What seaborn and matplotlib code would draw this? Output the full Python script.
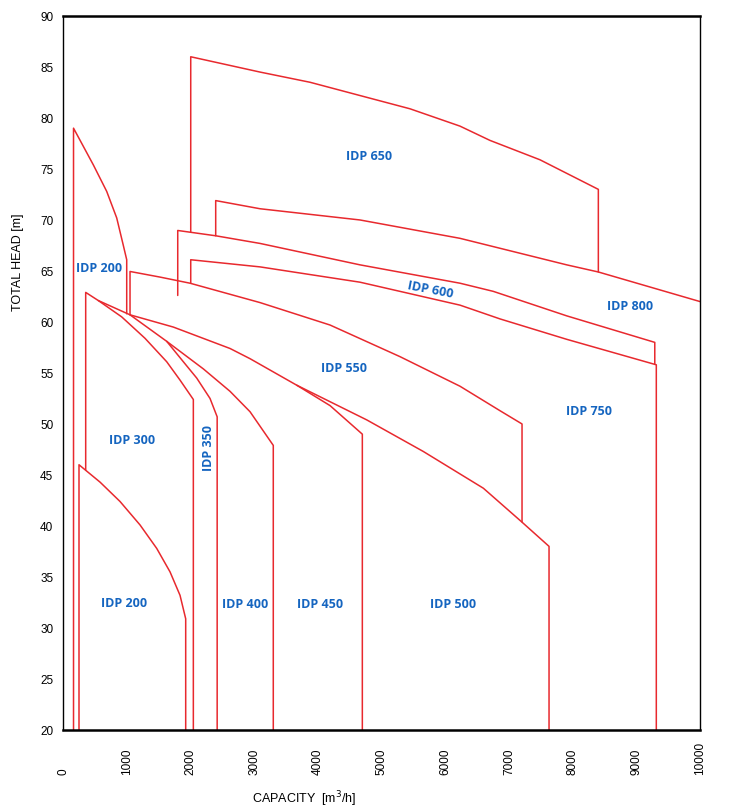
import matplotlib
matplotlib.use("Agg")
import matplotlib.pyplot as plt
import seaborn as sns
import pandas as pd

# pump range outlines: capacity [m3/h] / total head [m]
idp200_up_q = [165, 165, 476, 686, 843, 947, 1000, 1000]
idp200_up_h = [20, 79.0, 75.4, 72.8, 70.2, 67.5, 66.1, 60.8]

idp200_low_q = [251, 251, 581, 895, 1209, 1471, 1680, 1837, 1926, 1926]
idp200_low_h = [20, 46.0, 44.3, 42.4, 40.1, 37.8, 35.5, 33.2, 30.9, 20]

idp300_q = [356, 356, 554, 921, 1287, 1628, 1837, 2046, 2046]
idp300_h = [45.5, 62.9, 62.1, 60.5, 58.4, 56.1, 54.3, 52.4, 20]

idp350_q = [554, 1052, 1628, 1889, 2099, 2308, 2420, 2420]
idp350_h = [62.1, 60.7, 58.1, 56.1, 54.5, 52.5, 50.7, 20]

idp400_q = [1628, 2203, 2622, 2936, 3301, 3301]
idp400_h = [58.1, 55.4, 53.2, 51.2, 47.9, 20]

idp450_q = [1052, 1732, 2622, 2936, 3669, 4192, 4699, 4699]
idp450_h = [60.7, 59.5, 57.4, 56.4, 53.8, 51.8, 49.0, 20]

idp500_q = [3669, 4768, 5657, 6599, 7201, 7630, 7630]
idp500_h = [53.8, 50.4, 47.3, 43.7, 40.4, 38.0, 20]

idp550_q = [1052, 1052, 1523, 1994, 3093, 4192, 5290, 6232, 6860, 7206, 7206]
idp550_h = [60.7, 64.95, 64.4, 63.8, 61.9, 59.7, 56.6, 53.7, 51.3, 50.0, 40.4]

idp750_q = [2005, 2005, 3093, 3615, 4662, 6232, 6860, 7907, 9314, 9314]
idp750_h = [63.8, 66.1, 65.4, 64.9, 63.9, 61.65, 60.3, 58.3, 55.8, 20]

idp600_q = [1801, 1801, 2397, 3093, 4662, 6232, 6755, 7907, 9290, 9290]
idp600_h = [62.6, 68.97, 68.45, 67.7, 65.6, 63.8, 63.0, 60.6, 58.0, 55.9]

idp650_q = [2005, 2005, 3093, 3878, 4662, 5447, 6232, 6703, 7488, 8404, 8404]
idp650_h = [68.8, 86.0, 84.5, 83.5, 82.2, 80.9, 79.2, 77.8, 75.9, 73.0, 64.9]

idp800_q = [2397, 2397, 3093, 4662, 6232, 7907, 8404, 10000]
idp800_h = [68.45, 71.9, 71.1, 70.0, 68.2, 65.6, 64.9, 62.0]

curve_names = ["200a", "200b", "300", "350", "400", "450", "500",
               "550", "750", "600", "650", "800"]
curve_q = [idp200_up_q, idp200_low_q, idp300_q, idp350_q, idp400_q, idp450_q,
           idp500_q, idp550_q, idp750_q, idp600_q, idp650_q, idp800_q]
curve_h = [idp200_up_h, idp200_low_h, idp300_h, idp350_h, idp400_h, idp450_h,
           idp500_h, idp550_h, idp750_h, idp600_h, idp650_h, idp800_h]

# region labels
label_text = ["IDP 650", "IDP 200", "IDP 600", "IDP 800", "IDP 550", "IDP 750",
              "IDP 300", "IDP 350", "IDP 200", "IDP 400", "IDP 450", "IDP 500"]
label_q = [4804, 565, 5761, 8901, 4411, 8257, 1083, 2289, 958, 2857, 4035, 6122]
label_h = [76.3, 65.3, 63.2, 61.6, 55.5, 51.3, 48.5, 47.7, 32.5, 32.4, 32.4, 32.4]
label_rot = [0, 0, -11, 0, 0, 0, 0, 90, 0, 0, 0, 0]

x_ticks = list(range(0, 10001, 1000))
y_ticks = list(range(20, 91, 5))

frames = []
for name, q, h in zip(curve_names, curve_q, curve_h):
    frames.append(pd.DataFrame({"curve": name, "q": q, "h": h}))
df = pd.concat(frames, ignore_index=True)

sns.set_style("white")
plt.rcParams["font.family"] = ["Liberation Sans", "DejaVu Sans"]

fig = plt.figure(figsize=(7.31, 8.12), dpi=100)
ax = fig.add_axes([0.0862, 0.0998, 0.8714, 0.8793])

sns.lineplot(data=df, x="q", y="h", units="curve", estimator=None, sort=False,
             color="#e8292e", linewidth=1.1, ax=ax, legend=False)

for txt, q, h, rot in zip(label_text, label_q, label_h, label_rot):
    ax.text(q, h, txt, ha="center", va="center", rotation=rot,
            color="#1565c0", fontsize=9, fontweight="bold", family="Open Sans")

ax.set_xlim(0, 10000)
ax.set_ylim(20, 90)
ax.set_xticks(x_ticks)
ax.set_xticklabels([str(t) for t in x_ticks], rotation=90, va="bottom", ha="center")
ax.set_yticks(y_ticks)
ax.tick_params(axis="x", length=0, pad=31.5, labelsize=8.5, labelcolor="black")
ax.tick_params(axis="y", length=0, pad=7, labelsize=8.5, labelcolor="black")

ax.set_xlabel("CAPACITY  [m$^{3}$/h]", fontsize=9, color="black", va="center")
ax.xaxis.set_label_coords(0.378, -0.095)
ax.set_ylabel("TOTAL HEAD [m]", fontsize=9, color="black")
ax.yaxis.set_label_coords(-0.061, 0.657)

for side in ["top", "bottom"]:
    ax.spines[side].set_linewidth(1.8)
    ax.spines[side].set_color("black")
for side in ["left", "right"]:
    ax.spines[side].set_linewidth(1.0)
    ax.spines[side].set_color("black")

fig.savefig("out.png", dpi=100)
